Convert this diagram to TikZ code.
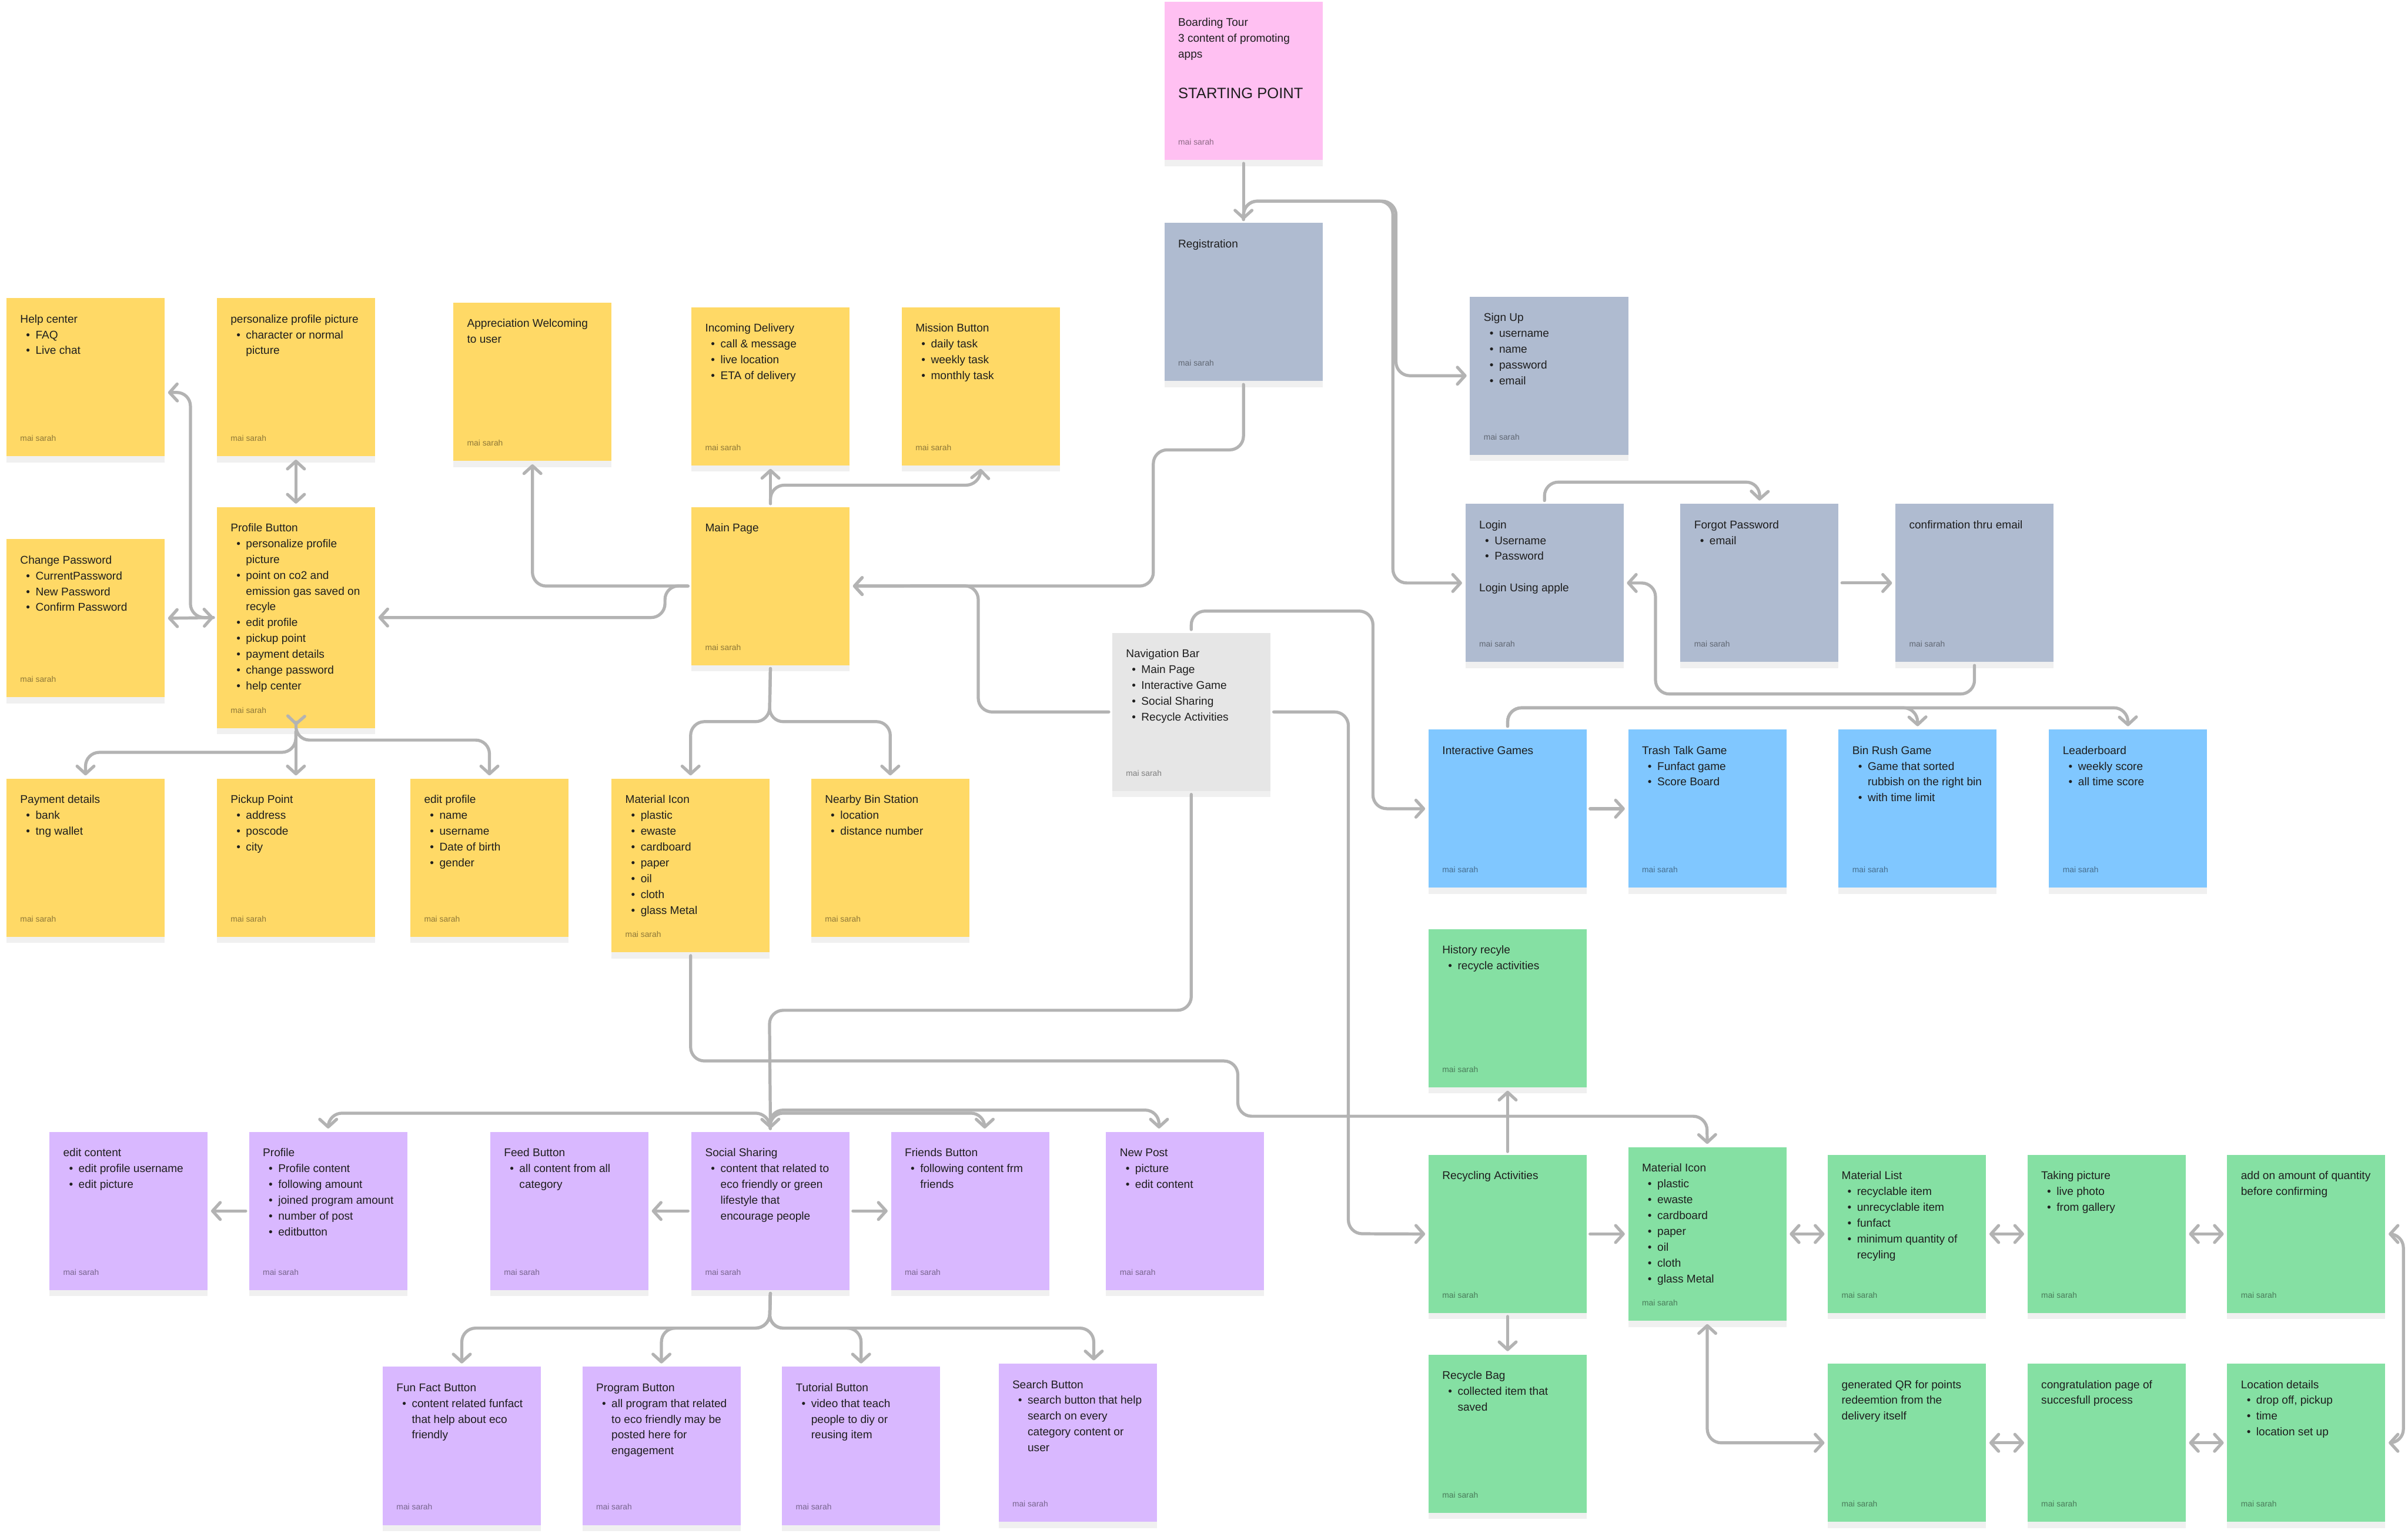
\documentclass[tikz,border=0pt]{standalone}
\usepackage{fontspec}
\setmainfont{Liberation Sans}
\usetikzlibrary{arrows.meta,calc,shadows}
\definecolor{noteY}{RGB}{255,217,102}
\definecolor{noteP}{RGB}{255,192,242}
\definecolor{noteS}{RGB}{175,187,208}
\definecolor{noteG}{RGB}{230,230,230}
\definecolor{noteB}{RGB}{128,199,255}
\definecolor{noteE}{RGB}{133,224,163}
\definecolor{noteV}{RGB}{217,184,255}
\definecolor{wire}{RGB}{179,179,179}
\definecolor{ink}{RGB}{30,30,30}
\newcommand{\notefont}{\fontsize{7.3}{10.3}\selectfont}
\newcommand{\footfont}{\fontsize{5.3}{6}\selectfont}
\newcommand{\itm}[1]{\hspace*{3.8pt}\makebox[6.2pt][l]{\textbullet}#1}
\newcommand{\itc}[1]{\hspace*{10pt}#1}
\newcommand{\stickynote}[6]{%
  \node[note, fill=#5, minimum height=#4pt] (#1) at (#2,#3) {};
  \node[notetext] (#1-t) at ($(#1.north west)+(9,9)$) {\rule{0pt}{7pt}#6};
  \node[notefoot] (#1-f) at ($(#1.south west)+(9,-10)$) {mai sarah};}

\begin{document}
\begin{tikzpicture}[x=1pt,y=-1pt,>={Straight Barb[length=5pt,width=11pt,round]},
  note/.style={anchor=north west,minimum width=103pt,inner sep=0pt,draw=none,
    drop shadow={shadow xshift=0pt,shadow yshift=-4pt,fill=black,opacity=.06}},
  notetext/.style={anchor=north west,inner sep=0pt,align=left,font=\notefont,text=ink},
  notefoot/.style={anchor=base west,inner sep=0pt,font=\footfont,text=black,text opacity=.45},
  conn/.style={draw=wire,line width=2pt,rounded corners=9pt,line cap=round,shorten >=2pt,shorten <=2pt,->},
  bothway/.style={conn,<->}]
\useasboundingbox[fill=white] (0,0) rectangle (1568,1001);

% yellow: main page branch
\stickynote{help}{4}{194}{103}{noteY}{Help center\\\itm{FAQ}\\\itm{Live chat}}
\stickynote{pers}{141}{194}{103}{noteY}{personalize profile picture\\\itm{character or normal}\\\itc{picture}}
\stickynote{appr}{295}{197}{103}{noteY}{Appreciation Welcoming\\to user}
\stickynote{incoming}{450}{200}{103}{noteY}{Incoming Delivery\\\itm{call \& message}\\\itm{live location}\\\itm{ETA of delivery}}
\stickynote{mission}{587}{200}{103}{noteY}{Mission Button\\\itm{daily task}\\\itm{weekly task}\\\itm{monthly task}}
\stickynote{chpw}{4}{351}{103}{noteY}{Change Password\\\itm{CurrentPassword}\\\itm{New Password}\\\itm{Confirm Password}}
\stickynote{profbtn}{141}{330}{144}{noteY}{Profile Button\\\itm{personalize profile}\\\itc{picture}\\\itm{point on co2 and}\\\itc{emission gas saved on}\\\itc{recyle}\\\itm{edit profile}\\\itm{pickup point}\\\itm{payment details}\\\itm{change password}\\\itm{help center}}
\stickynote{main}{450}{330}{103}{noteY}{Main Page}
\stickynote{pay}{4}{507}{103}{noteY}{Payment details\\\itm{bank}\\\itm{tng wallet}}
\stickynote{pickup}{141}{507}{103}{noteY}{Pickup Point\\\itm{address}\\\itm{poscode}\\\itm{city}}
\stickynote{editp}{267}{507}{103}{noteY}{edit profile\\\itm{name}\\\itm{username}\\\itm{Date of birth}\\\itm{gender}}
\stickynote{matY}{398}{507}{113}{noteY}{Material Icon\\\itm{plastic}\\\itm{ewaste}\\\itm{cardboard}\\\itm{paper}\\\itm{oil}\\\itm{cloth}\\\itm{glass Metal}}
\stickynote{nearby}{528}{507}{103}{noteY}{Nearby Bin Station\\\itm{location}\\\itm{distance number}}

% start, registration and navigation
\stickynote{board}{758}{1}{103}{noteP}{Boarding Tour\\3 content of promoting\\apps}
\node[anchor=base west,inner sep=0pt,font=\fontsize{9.8}{11}\selectfont,text=ink] (board-s) at ($(board.north west)+(9,63)$) {STARTING POINT};
\stickynote{reg}{758}{145}{103}{noteS}{Registration}
\stickynote{signup}{957}{193}{103}{noteS}{Sign Up\\\itm{username}\\\itm{name}\\\itm{password}\\\itm{email}}
\stickynote{login}{954}{328}{103}{noteS}{Login\\\itm{Username}\\\itm{Password}\\[10.3pt]Login Using apple}
\stickynote{forgot}{1094}{328}{103}{noteS}{Forgot Password\\\itm{email}}
\stickynote{confirm}{1234}{328}{103}{noteS}{confirmation thru email}
\stickynote{nav}{724}{412}{103}{noteG}{Navigation Bar\\\itm{Main Page}\\\itm{Interactive Game}\\\itm{Social Sharing}\\\itm{Recycle Activities}}

% games
\stickynote{games}{930}{475}{103}{noteB}{Interactive Games}
\stickynote{trash}{1060}{475}{103}{noteB}{Trash Talk Game\\\itm{Funfact game}\\\itm{Score Board}}
\stickynote{binrush}{1197}{475}{103}{noteB}{Bin Rush Game\\\itm{Game that sorted}\\\itc{rubbish on the right bin}\\\itm{with time limit}}
\stickynote{leader}{1334}{475}{103}{noteB}{Leaderboard\\\itm{weekly score}\\\itm{all time score}}

% recycling
\stickynote{hist}{930}{605}{103}{noteE}{History recyle\\\itm{recycle activities}}
\stickynote{recyc}{930}{752}{103}{noteE}{Recycling Activities}
\stickynote{matG}{1060}{747}{113}{noteE}{Material Icon\\\itm{plastic}\\\itm{ewaste}\\\itm{cardboard}\\\itm{paper}\\\itm{oil}\\\itm{cloth}\\\itm{glass Metal}}
\stickynote{matlist}{1190}{752}{103}{noteE}{Material List\\\itm{recyclable item}\\\itm{unrecyclable item}\\\itm{funfact}\\\itm{minimum quantity of}\\\itc{recyling}}
\stickynote{photo}{1320}{752}{103}{noteE}{Taking picture\\\itm{live photo}\\\itm{from gallery}}
\stickynote{addon}{1450}{752}{103}{noteE}{add on amount of quantity\\before confirming}
\stickynote{bag}{930}{882}{103}{noteE}{Recycle Bag\\\itm{collected item that}\\\itc{saved}}
\stickynote{qr}{1190}{888}{103}{noteE}{generated QR for points\\redeemtion from the\\delivery itself}
\stickynote{congr}{1320}{888}{103}{noteE}{congratulation page of\\succesfull process}
\stickynote{loc}{1450}{888}{103}{noteE}{Location details\\\itm{drop off, pickup}\\\itm{time}\\\itm{location set up}}

% social sharing
\stickynote{editc}{32}{737}{103}{noteV}{edit content\\\itm{edit profile username}\\\itm{edit picture}}
\stickynote{profP}{162}{737}{103}{noteV}{Profile\\\itm{Profile content}\\\itm{following amount}\\\itm{joined program amount}\\\itm{number of post}\\\itm{editbutton}}
\stickynote{feed}{319}{737}{103}{noteV}{Feed Button\\\itm{all content from all}\\\itc{category}}
\stickynote{social}{450}{737}{103}{noteV}{Social Sharing\\\itm{content that related to}\\\itc{eco friendly or green}\\\itc{lifestyle that}\\\itc{encourage people}}
\stickynote{friends}{580}{737}{103}{noteV}{Friends Button\\\itm{following content frm}\\\itc{friends}}
\stickynote{newpost}{720}{737}{103}{noteV}{New Post\\\itm{picture}\\\itm{edit content}}
\stickynote{fun}{249}{890}{103}{noteV}{Fun Fact Button\\\itm{content related funfact}\\\itc{that help about eco}\\\itc{friendly}}
\stickynote{program}{379}{890}{103}{noteV}{Program Button\\\itm{all program that related}\\\itc{to eco friendly may be}\\\itc{posted here for}\\\itc{engagement}}
\stickynote{tutorial}{509}{890}{103}{noteV}{Tutorial Button\\\itm{video that teach}\\\itc{people to diy or}\\\itc{reusing item}}
\stickynote{search}{650}{888}{103}{noteV}{Search Button\\\itm{search button that help}\\\itc{search on every}\\\itc{category content or}\\\itc{user}}

% connectors: start and login
\draw[conn] (board.south) -- (reg.north);
\draw[conn] (reg.north) |- (909,131) |- (signup.west);
\draw[conn] (reg.north) |- (907,131) |- (login.west);
\draw[conn] (login.north) |- (1146,314) -- (forgot.north);
\draw[conn] (forgot.east) -- (confirm.west);
\draw[conn] (confirm.south) |- (1078,452) |- (login.east);
\draw[conn] (reg.south) |- (751,293) |- (main.east);
\draw[conn] (nav.west) -| (637,381.5) -- (main.east);

% connectors: main page
\draw[conn] (main.north) -- (incoming.south);
\draw[conn] (main.north) |- (638,316) -- (mission.south);
\draw[conn] (main.west) -| (appr.south);
\draw[conn] (main.west) -- (433,381.5) |- (profbtn.east);
\draw[bothway] (pers.south) -- (profbtn.north);
\draw[bothway] (chpw.east) -- (profbtn.west);
\draw[conn] (profbtn.west) -| (124,255.5) -- ($(help.east)+(0,10)$);
\draw[conn] (profbtn.south) -- (192.5,490) -| (pay.north);
\draw[conn] (profbtn.south) -- (pickup.north);
\draw[bothway] (profbtn.south) -- (192.5,482) -| (editp.north);
\draw[conn] (main.south) -- (501,470) -| (matY.north);
\draw[conn] (main.south) -- (501,470) -| (nearby.north);
\draw[conn] (matY.south) |- (806,691) |- (1111.5,727) -- (matG.north);

% connectors: navigation bar
\draw[conn] (nav.north) |- (894,398) |- (games.west);
\draw[conn] (nav.east) -| (878,803.5) -- (recyc.west);
\draw[conn] (nav.south) |- (501,658) -- (social.north);

% connectors: games
\draw[conn] (games.east) -- (trash.west);
\draw[conn] (games.north) |- (1248.5,461) -- (binrush.north);
\draw[conn] (games.north) |- (1385.5,461) -- (leader.north);

% connectors: recycling
\draw[conn] (recyc.north) -- (hist.south);
\draw[conn] (recyc.south) -- (bag.north);
\draw[conn] (recyc.east) -- (matG.west);
\draw[bothway] (matG.east) -- (matlist.west);
\draw[bothway] (matlist.east) -- (photo.west);
\draw[bothway] (photo.east) -- (addon.west);
\draw[bothway] (addon.east) -| (1565,870) |- (loc.east);
\draw[bothway] (loc.west) -- (congr.east);
\draw[bothway] (congr.west) -- (qr.east);
\draw[bothway] (matG.south) |- (qr.west);

% connectors: social sharing
\draw[conn] (social.north) -- (501,725) -| (profP.north);
\draw[conn] (social.north) -- (501,725) -| ($(friends.north)+(9.5,0)$);
\draw[conn] (social.north) -- (501,723) -| ($(newpost.north)+(-17,0)$);
\draw[conn] (social.west) -- (feed.east);
\draw[conn] (social.east) -- (friends.west);
\draw[conn] (profP.west) -- (editc.east);
\draw[conn] (social.south) -- (501,865) -| (fun.north);
\draw[conn] (social.south) -- (501,865) -| (program.north);
\draw[conn] (social.south) -- (501,865) -| (tutorial.north);
\draw[conn] (social.south) -- (501,865) -| ($(search.north)+(10.5,0)$);
\end{tikzpicture}
\end{document}
